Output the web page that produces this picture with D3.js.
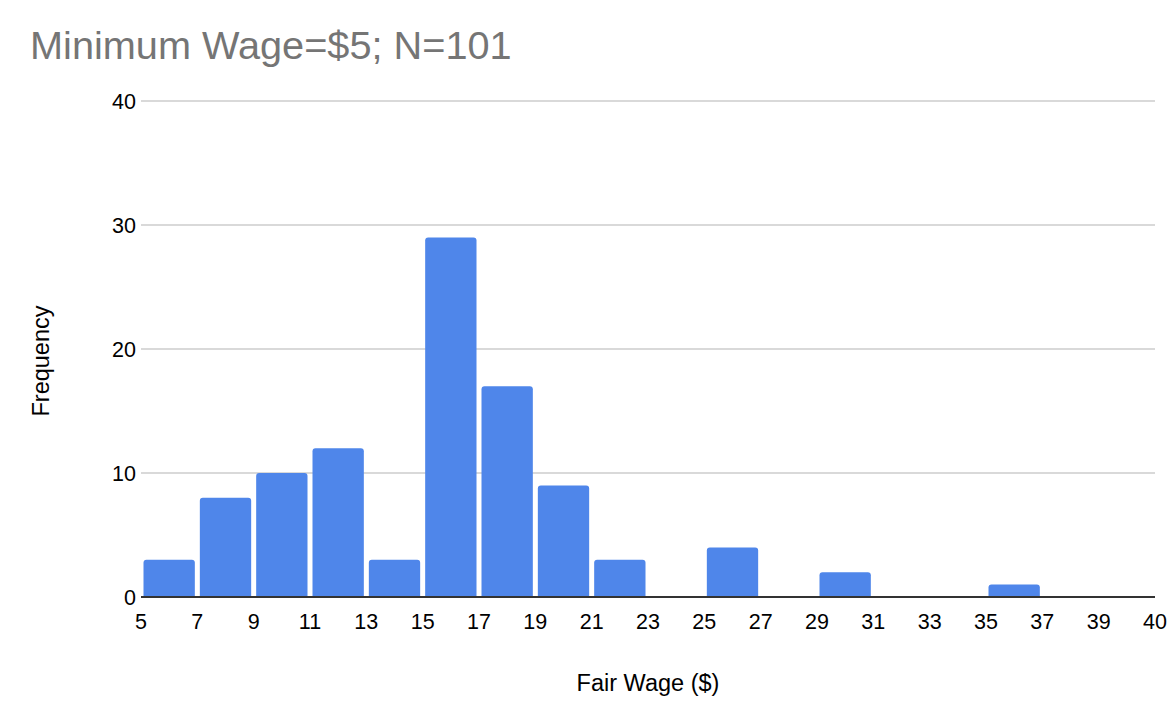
<!DOCTYPE html>
<html>
<head>
<meta charset="utf-8">
<script src="https://cdn.jsdelivr.net/npm/d3@7"></script>
<style>
  body { margin: 0; background: #fff; }
  text { font-family: "Liberation Sans", Arial, sans-serif; }
</style>
</head>
<body>
<svg id="chart"></svg>
<script>
// histogram of fair wage answers
const width = 1176;
const height = 718;

// bin edges shown on the x axis (last bin is 39-40)
const tickLabels = ["5", "7", "9", "11", "13", "15", "17", "19", "21", "23", "25", "27", "29", "31", "33", "35", "37", "39", "40"];
// count per bin
const counts = [3, 8, 10, 12, 3, 29, 17, 9, 3, 0, 4, 0, 2, 0, 0, 1, 0, 0];
const yTicks = [0, 10, 20, 30, 40];

const svg = d3.select("#chart")
    .attr("width", width)
    .attr("height", height);

const x = d3.scaleLinear()
    .domain([0, counts.length])
    .range([141, 1155]);

const y = d3.scaleLinear()
    .domain([0, 40])
    .range([597, 101]);

// title
svg.append("text")
    .attr("x", 30)
    .attr("y", 59)
    .attr("font-size", 39.7)
    .attr("fill", "#757575")
    .text("Minimum Wage=$5; N=101");

// gridlines + y labels
svg.selectAll(".grid")
    .data(yTicks.filter(d => d > 0))
    .enter()
    .append("line")
    .attr("x1", x(0))
    .attr("x2", x(counts.length))
    .attr("y1", d => y(d))
    .attr("y2", d => y(d))
    .attr("stroke", "#cccccc")
    .attr("stroke-width", 1.3);

svg.selectAll(".ylab")
    .data(yTicks)
    .enter()
    .append("text")
    .attr("x", 136)
    .attr("y", d => y(d))
    .attr("dy", "0.35em")
    .attr("text-anchor", "end")
    .attr("font-size", 21.5)
    .attr("fill", "#000")
    .text(d => d);

// bars with rounded tops
const r = 3;
svg.selectAll(".bar")
    .data(counts.map((c, i) => ({ c, i })).filter(d => d.c > 0))
    .enter()
    .append("path")
    .attr("class", "bar")
    .attr("fill", "#4f86ea")
    .attr("d", d => {
        const x0 = x(d.i) + 2.5;
        const x1 = x(d.i + 1) - 2.5;
        const y0 = y(0);
        const y1 = y(d.c);
        return `M${x0},${y0}V${y1 + r}Q${x0},${y1} ${x0 + r},${y1}H${x1 - r}Q${x1},${y1} ${x1},${y1 + r}V${y0}Z`;
    });

// baseline
svg.append("line")
    .attr("x1", x(0))
    .attr("x2", x(counts.length))
    .attr("y1", y(0))
    .attr("y2", y(0))
    .attr("stroke", "#333")
    .attr("stroke-width", 2);

// x labels
svg.selectAll(".xlab")
    .data(tickLabels)
    .enter()
    .append("text")
    .attr("x", (d, i) => x(i))
    .attr("y", 629)
    .attr("text-anchor", "middle")
    .attr("font-size", 21.5)
    .attr("fill", "#000")
    .text(d => d);

// axis titles
svg.append("text")
    .attr("x", 648)
    .attr("y", 691)
    .attr("text-anchor", "middle")
    .attr("font-size", 23.5)
    .text("Fair Wage ($)");

svg.append("text")
    .attr("transform", "translate(49,361) rotate(-90)")
    .attr("text-anchor", "middle")
    .attr("font-size", 23.5)
    .text("Frequency");
</script>
</body>
</html>
